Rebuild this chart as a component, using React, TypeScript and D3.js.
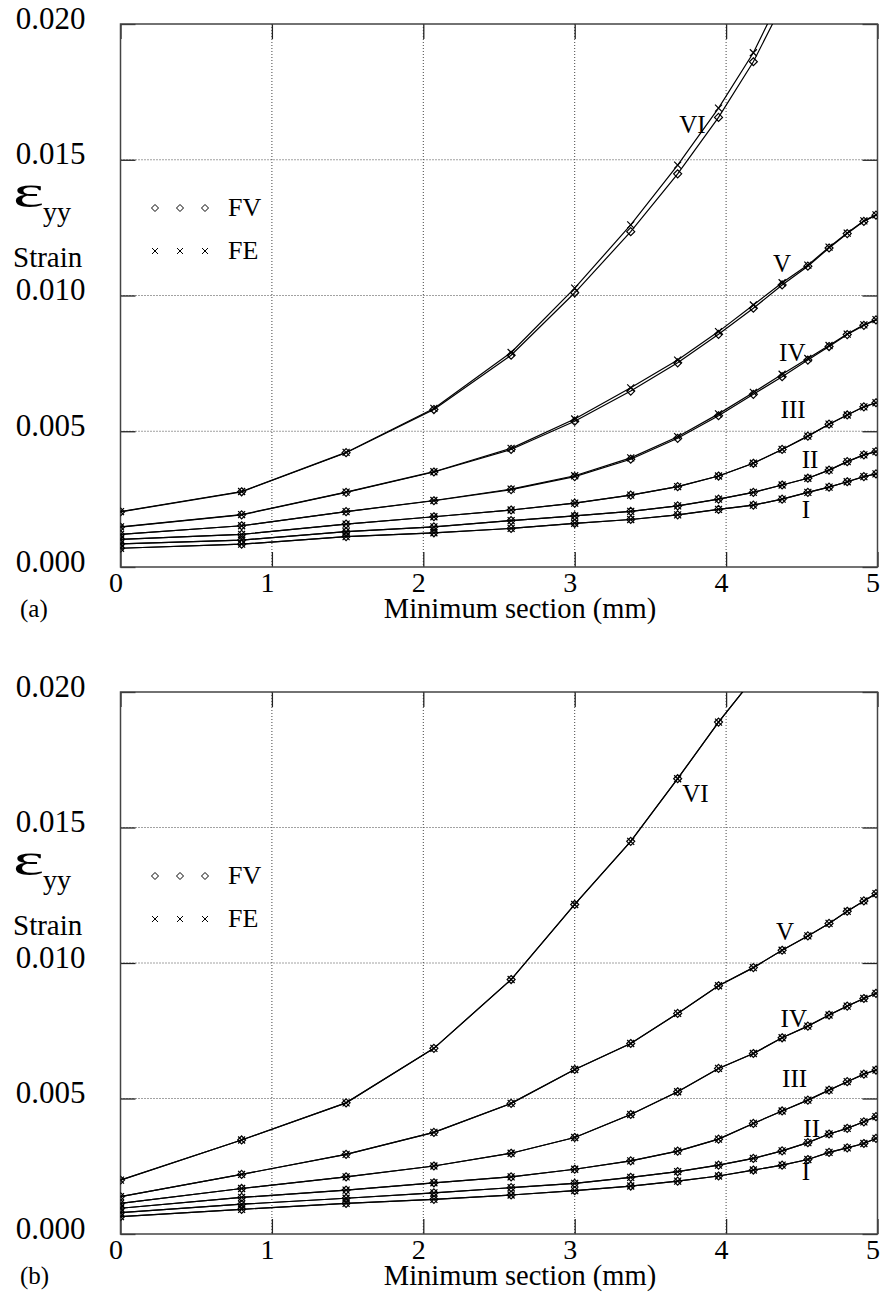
import React, { useEffect, useRef } from 'react';
import * as d3 from 'd3';

// minimum section positions (mm), shared by all curves
const xs = [0, 0.8, 1.49, 2.07, 2.58, 3.0, 3.37, 3.68, 3.95, 4.18, 4.37, 4.54, 4.68, 4.8, 4.91, 4.99];

const xTicks = [0, 1, 2, 3, 4, 5];
const yTicks = [0, 0.005, 0.01, 0.015, 0.02];
const curveNames = ['I', 'II', 'III', 'IV', 'V', 'VI'];

// panel (a): FV and FE
const aI = [0.00069, 0.00084, 0.00112, 0.00126, 0.00142, 0.00161, 0.00175, 0.00192, 0.00212, 0.00228, 0.0025, 0.00275, 0.00294, 0.00314, 0.00333, 0.00343];
const aII = [0.00085, 0.00099, 0.0013, 0.00148, 0.00171, 0.00188, 0.00205, 0.00225, 0.0025, 0.00275, 0.00302, 0.00327, 0.00357, 0.00388, 0.00413, 0.00425];
const aIII = [0.00102, 0.0012, 0.00158, 0.00185, 0.0021, 0.00235, 0.00265, 0.00296, 0.00335, 0.00382, 0.00433, 0.00482, 0.00526, 0.0056, 0.0059, 0.00605];
const aIVfv = [0.0012, 0.00152, 0.00204, 0.00244, 0.00285, 0.00333, 0.00397, 0.00474, 0.00557, 0.00636, 0.00701, 0.00762, 0.00812, 0.00856, 0.0089, 0.0091];
const aIVfe = [0.0012, 0.00152, 0.00204, 0.00245, 0.00287, 0.00336, 0.00402, 0.0048, 0.00564, 0.00643, 0.0071, 0.00768, 0.00816, 0.00858, 0.00892, 0.00911];
const aVfv = [0.00147, 0.00192, 0.00275, 0.0035, 0.00433, 0.00537, 0.00648, 0.00752, 0.00857, 0.00953, 0.01039, 0.01108, 0.01175, 0.01228, 0.01273, 0.01296];
const aVfe = [0.00148, 0.00193, 0.00276, 0.00351, 0.00437, 0.00545, 0.0066, 0.00762, 0.00867, 0.00965, 0.01047, 0.01112, 0.01178, 0.0123, 0.01275, 0.01297];
const aVIfv = [0.00203, 0.00277, 0.00421, 0.0058, 0.0078, 0.0101, 0.01235, 0.01448, 0.01656, 0.01861, 0.0207];
const aVIfe = [0.00204, 0.00278, 0.00422, 0.00584, 0.0079, 0.01027, 0.0126, 0.0148, 0.0169, 0.01894, 0.0211];

// panel (b): FV and FE coincide
const bI = [0.00064, 0.00091, 0.00113, 0.00128, 0.00144, 0.0016, 0.00177, 0.00195, 0.00214, 0.00236, 0.00254, 0.00275, 0.00301, 0.00318, 0.00334, 0.00353];
const bII = [0.00079, 0.0011, 0.00132, 0.00152, 0.00171, 0.00187, 0.00209, 0.0023, 0.00254, 0.00279, 0.00307, 0.00337, 0.00369, 0.0039, 0.00414, 0.00433];
const bIII = [0.00095, 0.00135, 0.00162, 0.00189, 0.00211, 0.00239, 0.0027, 0.00306, 0.0035, 0.00408, 0.00454, 0.00494, 0.00531, 0.00562, 0.0059, 0.00605];
const bIV = [0.00113, 0.00168, 0.00211, 0.00251, 0.00298, 0.00356, 0.00441, 0.00525, 0.00611, 0.00666, 0.00724, 0.00767, 0.00808, 0.00841, 0.00869, 0.00888];
const bV = [0.00138, 0.0022, 0.00294, 0.00375, 0.00482, 0.00607, 0.00703, 0.00814, 0.00916, 0.00983, 0.01047, 0.011, 0.01146, 0.01191, 0.01229, 0.01256];
const bVI = [0.00199, 0.00347, 0.00484, 0.00685, 0.00939, 0.01216, 0.01449, 0.0168, 0.01889, 0.0205];

// curve label anchors [x, strain] for I..VI
const labelsA = [[4.5, 0.0018], [4.5, 0.00365], [4.36, 0.00549], [4.35, 0.00759], [4.31, 0.01087], [3.69, 0.016]];
const labelsB = [[4.5, 0.002], [4.51, 0.00358], [4.37, 0.00542], [4.36, 0.00763], [4.33, 0.01084], [3.71, 0.01593]];

const FONT = "'Liberation Serif', 'Times New Roman', serif";

const panels = [
  {
    id: 'a', tag: '(a)', top: 24, bottom: 567,
    fv: [aI, aII, aIII, aIVfv, aVfv, aVIfv],
    fe: [aI, aII, aIII, aIVfe, aVfe, aVIfe],
    labels: labelsA,
  },
  {
    id: 'b', tag: '(b)', top: 692, bottom: 1234,
    fv: [bI, bII, bIII, bIV, bV, bVI],
    fe: [bI, bII, bIII, bIV, bV, bVI],
    labels: labelsB,
  },
];

const left = 120.5;
const right = 877.5;

function drawPanel(svg, p) {
  const x = d3.scaleLinear().domain([0, 5]).range([left, right]);
  const y = d3.scaleLinear().domain([0, 0.02]).range([p.bottom, p.top]);
  const g = svg.append('g');

  const clipId = 'clip-' + p.id;
  svg.append('defs').append('clipPath').attr('id', clipId)
    .append('rect')
    .attr('x', left).attr('y', p.top)
    .attr('width', right - left).attr('height', p.bottom - p.top);

  // dotted grid
  g.append('g').selectAll('line').data(xTicks.slice(1, -1)).join('line')
    .attr('x1', d => x(d)).attr('x2', d => x(d))
    .attr('y1', p.top).attr('y2', p.bottom)
    .attr('stroke', '#444').attr('stroke-width', 1).attr('stroke-dasharray', '1,2');
  g.append('g').selectAll('line').data(yTicks.slice(1, -1)).join('line')
    .attr('x1', left).attr('x2', right)
    .attr('y1', d => y(d)).attr('y2', d => y(d))
    .attr('stroke', '#444').attr('stroke-width', 1).attr('stroke-dasharray', '1,2');

  // axes with inward ticks
  const axB = g.append('g').attr('transform', `translate(0,${p.bottom})`)
    .call(d3.axisBottom(x).tickValues(xTicks).tickFormat(d3.format('d')).tickSizeInner(-15).tickSizeOuter(0).tickPadding(5));
  axB.selectAll('text').attr('x', -5).attr('font-size', 28).attr('font-family', FONT).attr('fill', '#000');

  const axL = g.append('g').attr('transform', `translate(${left},0)`)
    .call(d3.axisLeft(y).tickValues(yTicks).tickFormat(d3.format('.3f')).tickSizeInner(-15).tickSizeOuter(0).tickPadding(35));
  axL.selectAll('text').attr('dy', '0.13em').attr('font-size', 31).attr('font-family', FONT).attr('fill', '#000');

  g.append('g').attr('transform', `translate(0,${p.top})`)
    .call(d3.axisTop(x).tickValues(xTicks).tickFormat(() => '').tickSizeInner(-15).tickSizeOuter(0));
  g.append('g').attr('transform', `translate(${right},0)`)
    .call(d3.axisRight(y).tickValues(yTicks).tickFormat(() => '').tickSizeInner(-15).tickSizeOuter(0));

  g.selectAll('.domain').remove();
  g.selectAll('.tick line').attr('stroke', '#222').attr('stroke-width', 1.3);

  // frame
  g.append('rect')
    .attr('x', left).attr('y', p.top)
    .attr('width', right - left).attr('height', p.bottom - p.top)
    .attr('fill', 'none').attr('stroke', '#444').attr('stroke-width', 1.5);

  // curves
  const line = d3.line().x((d, i) => x(xs[i])).y(d => y(d));
  const plot = g.append('g').attr('clip-path', `url(#${clipId})`);

  const diamond = 'M0,-4L4,0L0,4L-4,0Z';
  const cross = 'M-3.5,-3.5L3.5,3.5M-3.5,3.5L3.5,-3.5';

  [p.fv, p.fe].forEach((set, k) => {
    set.forEach(vals => {
      plot.append('path').datum(vals)
        .attr('d', line)
        .attr('fill', 'none').attr('stroke', '#000').attr('stroke-width', 1.2);
      plot.append('g').selectAll('path').data(vals).join('path')
        .attr('transform', (d, i) => `translate(${x(xs[i])},${y(d)})`)
        .attr('d', k === 0 ? diamond : cross)
        .attr('fill', 'none').attr('stroke', '#000').attr('stroke-width', 1.2);
    });
  });

  // curve names
  g.append('g').selectAll('text').data(p.labels).join('text')
    .attr('x', d => x(d[0])).attr('y', d => y(d[1]))
    .attr('font-family', FONT).attr('font-size', 25).attr('fill', '#000')
    .text((d, i) => curveNames[i]);

  // legend
  const lg = g.append('g').attr('transform', `translate(0,${p.top})`);
  [155, 180, 205].forEach(cx => {
    lg.append('path').attr('d', 'M0,-3.5L3.5,0L0,3.5L-3.5,0Z')
      .attr('transform', `translate(${cx},184)`).attr('fill', 'none').attr('stroke', '#000').attr('stroke-width', 1);
    lg.append('path').attr('d', 'M-3,-3L3,3M-3,3L3,-3')
      .attr('transform', `translate(${cx},227)`).attr('fill', 'none').attr('stroke', '#000').attr('stroke-width', 1);
  });
  lg.append('text').attr('x', 228).attr('y', 192).attr('font-family', FONT).attr('font-size', 26).text('FV');
  lg.append('text').attr('x', 228).attr('y', 235).attr('font-family', FONT).attr('font-size', 26).text('FE');

  // y label
  lg.append('text').attr('x', 13).attr('y', 183)
    .attr('font-family', FONT).attr('font-size', 46)
    .attr('textLength', 31).attr('lengthAdjust', 'spacingAndGlyphs')
    .text('ε');
  lg.append('text').attr('x', 43).attr('y', 197)
    .attr('font-family', FONT).attr('font-size', 28).text('yy');
  lg.append('text').attr('x', 13).attr('y', 243)
    .attr('font-family', FONT).attr('font-size', 29).text('Strain');

  // x label and panel tag
  g.append('text').attr('x', 520).attr('y', p.bottom + 51)
    .attr('text-anchor', 'middle').attr('font-family', FONT).attr('font-size', 28.5)
    .text('Minimum section (mm)');
  g.append('text').attr('x', 20).attr('y', p.bottom + 50)
    .attr('font-family', FONT).attr('font-size', 25).text(p.tag);
}

const App = () => {
  const svgRef = useRef(null);

  useEffect(() => {
    const svg = d3.select(svgRef.current);
    svg.selectAll('*').remove();
    panels.forEach(p => drawPanel(svg, p));
  }, []);

  return (
    <svg ref={svgRef} width={882} height={1301}
      style={{ position: 'absolute', left: 0, top: 0, background: '#fff' }} />
  );
};

export default App;
